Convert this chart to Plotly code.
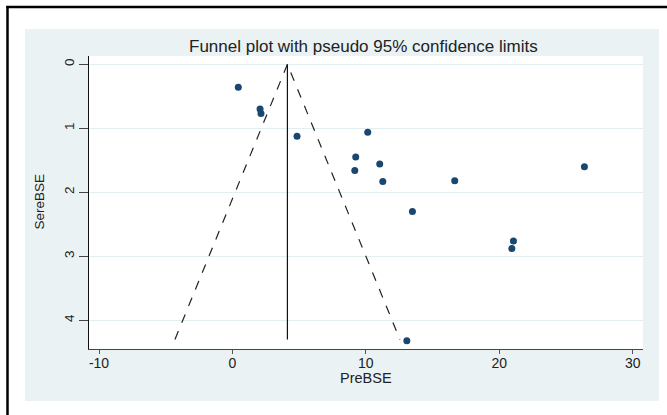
import plotly.graph_objects as go

# Study data
pre_bse = [0.44, 2.07, 2.14, 4.84, 10.14, 9.24, 9.17, 11.04, 11.27, 16.66, 26.38, 13.49, 21.06, 20.94, 13.07]
sere_bse = [0.36, 0.70, 0.77, 1.125, 1.06, 1.45, 1.66, 1.56, 1.83, 1.82, 1.60, 2.30, 2.76, 2.88, 4.32]

# Pooled estimate and funnel extent
theta = 4.12
se_max = 4.30
z95 = 1.96

x_ticks = [-10, 0, 10, 20, 30]
y_ticks = [0, 1, 2, 3, 4]

W, H = 667, 415
L, R, T, B = 89, 667 - 643, 56, 415 - 349
pw, ph = W - L - R, H - T - B

def px_x(p):
    return (p - L) / pw

def px_y(p):
    return (H - B - p) / ph

FONT = "Liberation Sans, Arial, sans-serif"
TXT = "#222222"

fig = go.Figure()

# funnel limits
fig.add_trace(go.Scatter(
    x=[theta - z95 * se_max, theta, theta + z95 * se_max],
    y=[se_max, 0, se_max],
    mode="lines", line=dict(color="#222222", width=1.2, dash="dash"),
    hoverinfo="skip", showlegend=False))
fig.add_trace(go.Scatter(
    x=[theta, theta], y=[0, se_max],
    mode="lines", line=dict(color="#111111", width=1.2),
    hoverinfo="skip", showlegend=False))
fig.add_trace(go.Scatter(
    x=pre_bse, y=sere_bse, mode="markers",
    marker=dict(color="#1a476f", size=7, line=dict(width=0)),
    showlegend=False))

shapes = [
    dict(type="rect", xref="paper", yref="paper", layer="below",
         x0=px_x(25), x1=px_x(659), y0=px_y(401), y1=px_y(29),
         fillcolor="#eaf2f4", line=dict(width=0)),
    dict(type="rect", xref="paper", yref="paper", layer="below",
         x0=0, x1=1, y0=0, y1=1, fillcolor="white", line=dict(width=0)),
    dict(type="line", xref="paper", yref="paper",
         x0=px_x(7.5), x1=px_x(7.5), y0=px_y(6), y1=px_y(420),
         line=dict(color="black", width=2.5)),
    dict(type="line", xref="paper", yref="paper",
         x0=px_x(6.3), x1=px_x(670), y0=px_y(7), y1=px_y(7),
         line=dict(color="black", width=2.5)),
]

annotations = [
    dict(text="Funnel plot with pseudo 95% confidence limits",
         xref="paper", yref="paper", x=px_x(363), y=px_y(46.5),
         xanchor="center", yanchor="middle", showarrow=False,
         font=dict(family=FONT, size=17, color=TXT)),
    dict(text="PreBSE", xref="paper", yref="paper", x=px_x(365.5), y=px_y(378),
         xanchor="center", yanchor="middle", showarrow=False,
         font=dict(family=FONT, size=14.5, color=TXT)),
    dict(text="SereBSE", xref="paper", yref="paper", x=px_x(38.5), y=px_y(202),
         xanchor="center", yanchor="middle", showarrow=False, textangle=-90,
         font=dict(family=FONT, size=13.5, color=TXT)),
]

fig.update_layout(
    width=W, height=H,
    margin=dict(l=L, r=R, t=T, b=B),
    paper_bgcolor="white", plot_bgcolor="white",
    font=dict(family=FONT, color=TXT),
    shapes=shapes,
    annotations=annotations,
    xaxis=dict(range=[-10.75, 30.77], tickvals=x_ticks, ticktext=[str(v) for v in x_ticks],
               showgrid=False, zeroline=False,
               showline=True, linecolor="#444444", linewidth=1.2,
               ticks="outside", ticklen=4, tickcolor="#555555", tickwidth=1,
               ticklabelstandoff=-3,
               tickfont=dict(size=14)),
    yaxis=dict(range=[4.45, -0.13], tickvals=y_ticks, ticktext=[str(v) for v in y_ticks],
               showgrid=True, gridcolor="#e3eef1", gridwidth=1,
               zeroline=False,
               showline=True, linecolor="#111111", linewidth=1.2,
               ticks="outside", ticklen=9, tickcolor="#444444", tickwidth=1,
               tickangle=-90, tickfont=dict(size=13.5)),
)

fig.write_html("out.html", config={"displayModeBar": False},
               post_script="document.body.style.margin='0';")
